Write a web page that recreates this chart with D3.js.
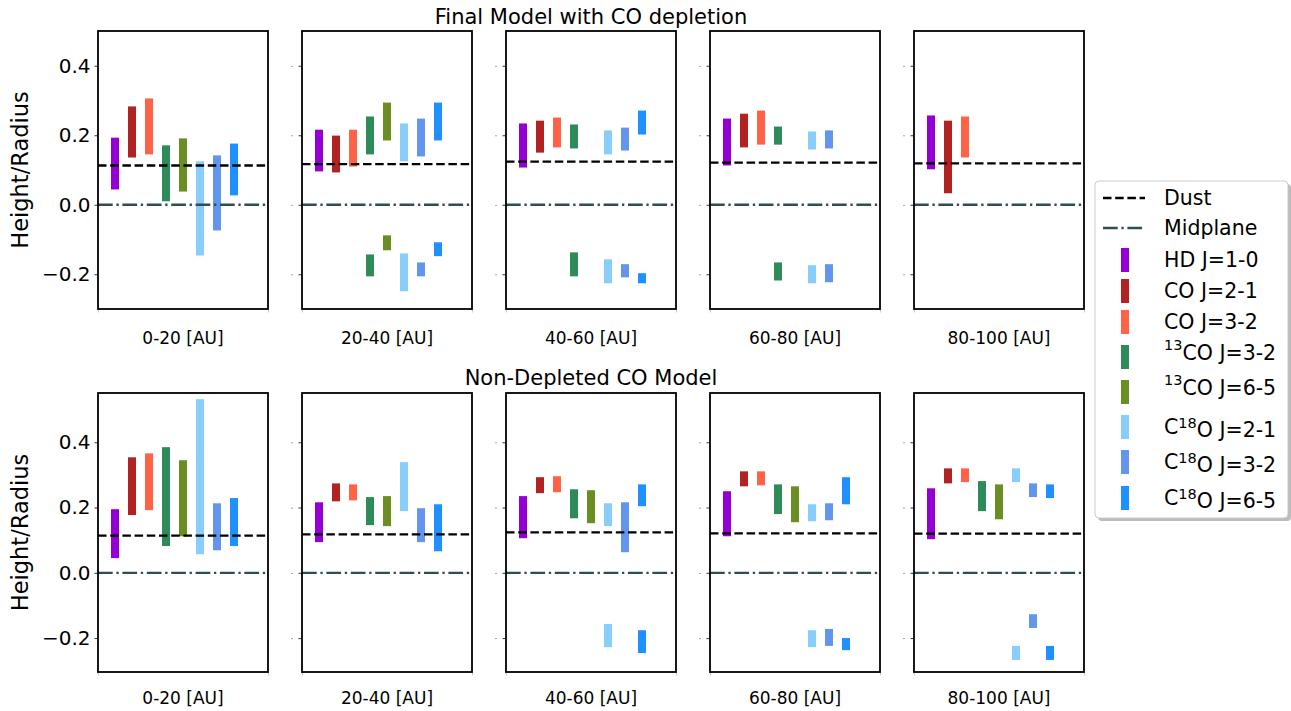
<!DOCTYPE html>
<html>
<head>
<meta charset="utf-8">
<script src="https://cdn.jsdelivr.net/npm/d3@7"></script>
<style>
  body { margin: 0; background: #fff; }
  text { font-family: "DejaVu Sans", sans-serif; fill: #000; }
</style>
</head>
<body>
<svg id="chart" width="1291" height="711"></svg>
<script>
// radial bins (one subplot each)
var bins = ['0-20 [AU]', '20-40 [AU]', '40-60 [AU]', '60-80 [AU]', '80-100 [AU]'];

// line species, legend order
var species = [
  { base: 'HD', sup: '', rest: '', tail: ' J=1-0' },
  { base: 'CO', sup: '', rest: '', tail: ' J=2-1' },
  { base: 'CO', sup: '', rest: '', tail: ' J=3-2' },
  { base: '', sup: '13', rest: 'CO', tail: ' J=3-2' },
  { base: '', sup: '13', rest: 'CO', tail: ' J=6-5' },
  { base: 'C', sup: '18', rest: 'O', tail: ' J=2-1' },
  { base: 'C', sup: '18', rest: 'O', tail: ' J=3-2' },
  { base: 'C', sup: '18', rest: 'O', tail: ' J=6-5' }
];
var colors = ['darkviolet', 'firebrick', 'tomato', 'seagreen', 'olivedrab',
              'lightskyblue', 'cornflowerblue', 'dodgerblue'];

// dust surface height per bin
var dustDepleted = [0.113, 0.117, 0.124, 0.121, 0.119];
var dustNonDepleted = [0.114, 0.118, 0.124, 0.121, 0.120];

// emitting layers: [species index, lower, upper] per bin
var depletedBars = [
  [[0, 0.044, 0.193], [1, 0.136, 0.283], [2, 0.145, 0.306], [3, 0.010, 0.171],
   [4, 0.038, 0.191], [5, -0.146, 0.125], [6, -0.074, 0.142], [7, 0.027, 0.176]],
  [[0, 0.096, 0.216], [1, 0.093, 0.199], [2, 0.110, 0.216], [3, 0.145, 0.254],
   [4, 0.185, 0.294], [5, 0.125, 0.234], [6, 0.139, 0.248], [7, 0.185, 0.294],
   [3, -0.206, -0.143], [4, -0.131, -0.088], [5, -0.249, -0.140], [6, -0.206, -0.166],
   [7, -0.148, -0.108]],
  [[0, 0.107, 0.234], [1, 0.150, 0.242], [2, 0.165, 0.251], [3, 0.162, 0.231],
   [5, 0.145, 0.214], [6, 0.156, 0.222], [7, 0.202, 0.271],
   [3, -0.206, -0.137], [5, -0.226, -0.157], [6, -0.209, -0.171], [7, -0.226, -0.197]],
  [[0, 0.113, 0.248], [1, 0.165, 0.262], [2, 0.173, 0.271], [3, 0.173, 0.225],
   [5, 0.159, 0.211], [6, 0.162, 0.214],
   [3, -0.218, -0.166], [5, -0.226, -0.174], [6, -0.223, -0.171]],
  [[0, 0.102, 0.257], [1, 0.033, 0.242], [2, 0.136, 0.254]]
];

var nonDepletedBars = [
  [[0, 0.045, 0.195], [1, 0.177, 0.354], [2, 0.192, 0.366], [3, 0.082, 0.385],
   [4, 0.112, 0.345], [5, 0.057, 0.532], [6, 0.069, 0.213], [7, 0.082, 0.229]],
  [[0, 0.094, 0.216], [1, 0.219, 0.274], [2, 0.222, 0.271], [3, 0.146, 0.232],
   [4, 0.143, 0.235], [5, 0.189, 0.339], [6, 0.094, 0.198], [7, 0.066, 0.210]],
  [[0, 0.106, 0.235], [1, 0.244, 0.293], [2, 0.247, 0.296], [3, 0.167, 0.256],
   [4, 0.152, 0.253], [5, 0.143, 0.213], [6, 0.063, 0.216], [7, 0.204, 0.271],
   [5, -0.228, -0.157], [7, -0.246, -0.176]],
  [[0, 0.112, 0.250], [1, 0.265, 0.311], [2, 0.268, 0.311], [3, 0.180, 0.271],
   [4, 0.155, 0.265], [5, 0.158, 0.210], [6, 0.161, 0.213], [7, 0.210, 0.293],
   [5, -0.228, -0.176], [6, -0.224, -0.172], [7, -0.237, -0.200]],
  [[0, 0.103, 0.259], [1, 0.274, 0.320], [2, 0.278, 0.320], [3, 0.189, 0.281],
   [4, 0.164, 0.271], [5, 0.278, 0.320], [6, 0.232, 0.274], [7, 0.229, 0.271],
   [5, -0.267, -0.224], [6, -0.169, -0.127], [7, -0.267, -0.224]]
];

var yTicks = [-0.2, 0.0, 0.2, 0.4];

var dashDust = '8.5,3.7';
var dashMid = '14.7,3.7,2.3,3.7';

var svg = d3.select('#chart');
var panelW = 170, panelStep = 204, panelLeft = 98;

var rows = [
  { title: 'Final Model with CO depletion', top: 31, bottom: 309, domain: [-0.3, 0.5],
    bars: depletedBars, dust: dustDepleted, titleY: 24, labelY: 344 },
  { title: 'Non-Depleted CO Model', top: 393, bottom: 672, domain: [-0.304, 0.551],
    bars: nonDepletedBars, dust: dustNonDepleted, titleY: 385, labelY: 704 }
];

rows.forEach(function (row) {
  var y = d3.scaleLinear().domain(row.domain).range([row.bottom, row.top]);

  svg.append('text')
    .attr('x', panelLeft + (4 * panelStep + panelW) / 2).attr('y', row.titleY)
    .attr('text-anchor', 'middle').style('font-size', '21px')
    .text(row.title);

  svg.append('text')
    .attr('transform', 'translate(28,' + (row.top + row.bottom) / 2 + ') rotate(-90)')
    .attr('text-anchor', 'middle').style('font-size', '22.5px')
    .text('Height/Radius');

  bins.forEach(function (bin, p) {
    var x0 = panelLeft + p * panelStep;
    var x = d3.scaleLinear().domain([0, 10]).range([x0, x0 + panelW]);
    var g = svg.append('g');
    var bw = x(0.47) - x(0);

    // y axis
    var yAxis = d3.axisLeft(y).tickValues(yTicks).tickSize(3.5).tickPadding(4)
      .tickFormat(p === 0 ? function (d) { return d3.format('.1f')(d).replace('-', '\u2212'); } : '');
    var ya = g.append('g').attr('transform', 'translate(' + x0 + ',0)').call(yAxis);
    ya.select('.domain').remove();
    ya.selectAll('.tick line').attr('stroke', '#000').attr('stroke-width', 0.8);
    ya.selectAll('.tick text').style('font-size', '20px').style('font-family', '"DejaVu Sans", sans-serif');
    if (p > 0) {
      ya.selectAll('.tick').append('circle').attr('cx', -10).attr('cy', 0).attr('r', 0.6).attr('fill', '#444');
    }

    // x axis (ticks only at the edges)
    var xa = g.append('g').attr('transform', 'translate(0,' + row.bottom + ')')
      .call(d3.axisBottom(x).tickValues([0, 10]).tickSize(3.5).tickFormat(''));
    xa.select('.domain').remove();
    xa.selectAll('.tick line').attr('stroke', '#ccc');

    g.append('text')
      .attr('x', x(5)).attr('y', row.labelY)
      .attr('text-anchor', 'middle').style('font-size', '17px')
      .text(bin);

    // emission layers
    g.selectAll('rect.bar').data(row.bars[p]).enter().append('rect')
      .attr('class', 'bar')
      .attr('x', function (d) { return x(d[0] + 1) - bw / 2; })
      .attr('width', bw)
      .attr('y', function (d) { return y(d[2]); })
      .attr('height', function (d) { return y(d[1]) - y(d[2]); })
      .attr('fill', function (d) { return colors[d[0]]; });

    // reference lines on top of the bars
    g.append('line')
      .attr('x1', x(0)).attr('x2', x(10))
      .attr('y1', y(0)).attr('y2', y(0))
      .attr('stroke', 'darkslategray').attr('stroke-width', 2.3)
      .attr('stroke-dasharray', dashMid);
    g.append('line')
      .attr('x1', x(0)).attr('x2', x(10))
      .attr('y1', y(row.dust[p])).attr('y2', y(row.dust[p]))
      .attr('stroke', '#000').attr('stroke-width', 2.3)
      .attr('stroke-dasharray', dashDust);

    // frame
    g.append('rect')
      .attr('x', x(0)).attr('y', row.top)
      .attr('width', x(10) - x(0)).attr('height', row.bottom - row.top)
      .attr('fill', 'none').attr('stroke', '#000').attr('stroke-width', 1.8);
  });
});

// legend
var lg = svg.append('g').attr('transform', 'translate(1095,181)');
lg.append('rect').attr('x', 3).attr('y', 3).attr('width', 193).attr('height', 337)
  .attr('rx', 4).attr('fill', '#bbb');
lg.append('rect').attr('x', 0).attr('y', 0).attr('width', 193).attr('height', 337)
  .attr('rx', 4).attr('fill', '#fff').attr('stroke', '#ccc').attr('stroke-width', 1);

var rowYs = [17, 47, 79, 110, 141, 176, 211, 246, 281, 317];
lg.append('line').attr('x1', 8).attr('x2', 50).attr('y1', rowYs[0]).attr('y2', rowYs[0])
  .attr('stroke', '#000').attr('stroke-width', 2.3).attr('stroke-dasharray', dashDust);
lg.append('line').attr('x1', 8).attr('x2', 50).attr('y1', rowYs[1]).attr('y2', rowYs[1])
  .attr('stroke', 'darkslategray').attr('stroke-width', 2.3).attr('stroke-dasharray', dashMid);
lg.append('text').attr('x', 69).attr('y', rowYs[0]).attr('dy', '0.35em').style('font-size', '20.5px').text('Dust');
lg.append('text').attr('x', 69).attr('y', rowYs[1]).attr('dy', '0.35em').style('font-size', '20.5px').text('Midplane');

species.forEach(function (s, i) {
  var yy = rowYs[i + 2];
  lg.append('rect').attr('x', 26).attr('y', yy - 12).attr('width', 8).attr('height', 24)
    .attr('fill', colors[i]);
  var t = lg.append('text').attr('x', 69).attr('y', yy).attr('dy', '0.35em').style('font-size', '20.5px');
  if (s.base) t.append('tspan').text(s.base);
  if (s.sup) {
    t.append('tspan').attr('dy', '-0.45em').style('font-size', '14.5px').text(s.sup);
    t.append('tspan').attr('dy', '0.45em').text(s.rest);
  }
  t.append('tspan').text(s.tail);
});
</script>
</body>
</html>
